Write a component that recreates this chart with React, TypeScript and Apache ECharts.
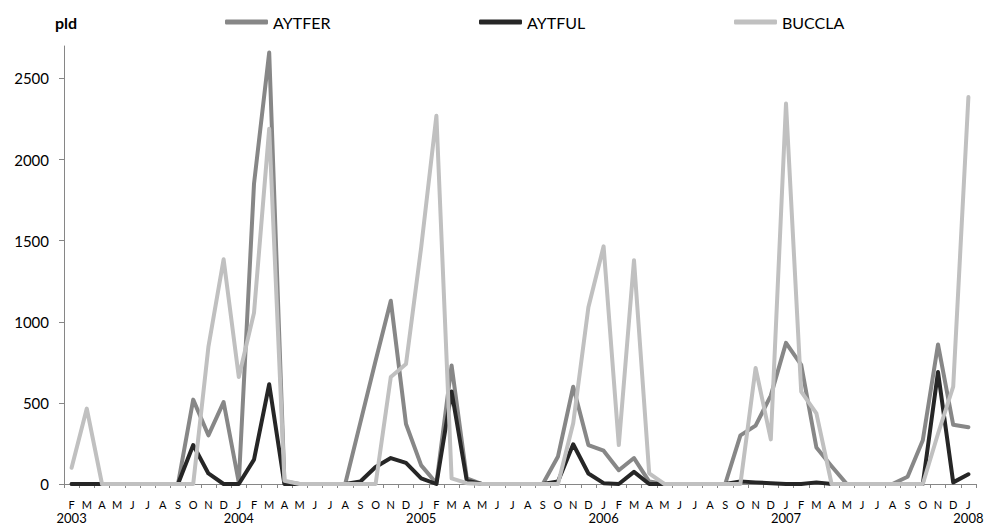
import React, { useEffect, useRef } from "react";
import * as echarts from "echarts";

// Feb 2003 .. Jan 2008 (60 months)
const monthLabels: string[] = [
  "F", "M", "A", "M", "J", "J", "A", "S", "O", "N", "D",
  "J", "F", "M", "A", "M", "J", "J", "A", "S", "O", "N", "D",
  "J", "F", "M", "A", "M", "J", "J", "A", "S", "O", "N", "D",
  "J", "F", "M", "A", "M", "J", "J", "A", "S", "O", "N", "D",
  "J", "F", "M", "A", "M", "J", "J", "A", "S", "O", "N", "D",
  "J",
];
const yearLabels: string[] = [
  "2003", "", "", "", "", "", "", "", "", "", "",
  "2004", "", "", "", "", "", "", "", "", "", "", "",
  "2005", "", "", "", "", "", "", "", "", "", "", "",
  "2006", "", "", "", "", "", "", "", "", "", "", "",
  "2007", "", "", "", "", "", "", "", "", "", "", "",
  "2008",
];

const aytfer: number[] = [
  0, 0, 0, 0, 0, 0, 0, 0, 520, 300, 505,
  10, 1850, 2660, 15, 0, 0, 0, 0, 380, 760, 1130, 370,
  115, 5, 730, 35, 0, 0, 0, 0, 0, 170, 600, 240,
  205, 85, 160, 15, 0, 0, 0, 0, 0, 300, 360, 545,
  870, 735, 225, 110, 0, 0, 0, 0, 45, 270, 860, 365,
  350,
];
const aytful: number[] = [
  0, 0, 0, 0, 0, 0, 0, 0, 240, 65, 0,
  0, 150, 615, 0, 0, 0, 0, 0, 15, 105, 160, 130,
  35, 0, 570, 20, 0, 0, 0, 0, 0, 15, 245, 65,
  5, 0, 75, 0, 0, 0, 0, 0, 0, 15, 10, 5,
  0, 0, 10, 0, 0, 0, 0, 0, 0, 0, 690, 10,
  60,
];
const buccla: number[] = [
  100, 465, 0, 0, 0, 0, 0, 0, 0, 845, 1385,
  660, 1055, 2190, 20, 0, 0, 0, 0, 0, 0, 660, 740,
  1460, 2270, 35, 5, 0, 0, 0, 0, 0, 0, 375, 1090,
  1465, 240, 1380, 65, 0, 0, 0, 0, 0, 0, 715, 275,
  2345, 570, 435, 0, 0, 0, 0, 0, 0, 0, 310, 600,
  2385,
];
const yTicks: number[] = [0, 500, 1000, 1500, 2000, 2500];

const seriesNames = ["AYTFER", "AYTFUL", "BUCCLA"];
const seriesColors = ["#878787", "#262626", "#c0c0c0"];
const seriesData = [aytfer, aytful, buccla];
const legendLeft = [225, 479, 734];

const FONT = "Lato, 'Open Sans', sans-serif";

export default function App() {
  const ref = useRef<HTMLDivElement>(null);
  useEffect(() => {
    if (!ref.current) return;
    const chart = echarts.init(ref.current, undefined, { renderer: "svg" });
    const cats = monthLabels.map((_, i) => String(i));
    chart.setOption({
      animation: false,
      backgroundColor: "#ffffff",
      textStyle: { fontFamily: FONT, color: "#000" },
      grid: { left: 64, right: 11, top: 46, bottom: 41, containLabel: false },
      legend: seriesNames.map((n, i) => ({
        data: [n],
        left: legendLeft[i],
        top: 14,
        padding: 0,
        icon: "roundRect",
        itemWidth: 43,
        itemHeight: 5,
        textStyle: { fontFamily: FONT, fontSize: 16, color: "#000" },
        selectedMode: false,
      })),
      xAxis: {
        type: "category",
        data: cats,
        boundaryGap: true,
        axisLine: { lineStyle: { color: "#868686", width: 1 } },
        axisTick: { show: true, length: 4, lineStyle: { color: "#868686" } },
        axisLabel: {
          interval: 0,
          margin: 14,
          color: "#000",
          fontFamily: FONT,
          formatter: (_v: string, idx: number) => {
            const m = monthLabels[idx];
            const y = yearLabels[idx];
            return y ? `{m|${m}}\n{y|${y}}` : `{m|${m}}`;
          },
          rich: {
            m: { fontSize: 11, lineHeight: 13, fontFamily: FONT, color: "#000" },
            y: { fontSize: 13, lineHeight: 14, fontFamily: FONT, color: "#000" },
          },
        },
        splitLine: { show: false },
      },
      yAxis: {
        type: "value",
        min: 0,
        max: 2700,
        interval: 500,
        name: "pld",
        nameLocation: "end",
        nameGap: 16,
        nameTextStyle: {
          fontFamily: FONT,
          fontSize: 16,
          fontWeight: "bold",
          color: "#000",
          align: "center",
          padding: [0, 0, 0, 4],
        },
        axisLine: { show: true, lineStyle: { color: "#868686", width: 1 } },
        axisTick: {
          show: true,
          length: 5,
          customValues: yTicks,
          lineStyle: { color: "#868686" },
        },
        axisLabel: {
          customValues: yTicks,
          margin: 15,
          fontSize: 15,
          fontFamily: FONT,
          color: "#000",
          formatter: (v: number) => String(v),
        },
        splitLine: { show: false },
      },
      series: seriesNames.map((n, i) => ({
        name: n,
        type: "line",
        data: seriesData[i],
        symbol: "none",
        color: seriesColors[i],
        itemStyle: { color: seriesColors[i] },
        lineStyle: { color: seriesColors[i], width: 4, cap: "round", join: "round" },
      })),
    });
    return () => chart.dispose();
  }, []);
  return (
    <div
      ref={ref}
      style={{ position: "fixed", left: 0, top: 0, width: 987, height: 525 }}
    />
  );
}
